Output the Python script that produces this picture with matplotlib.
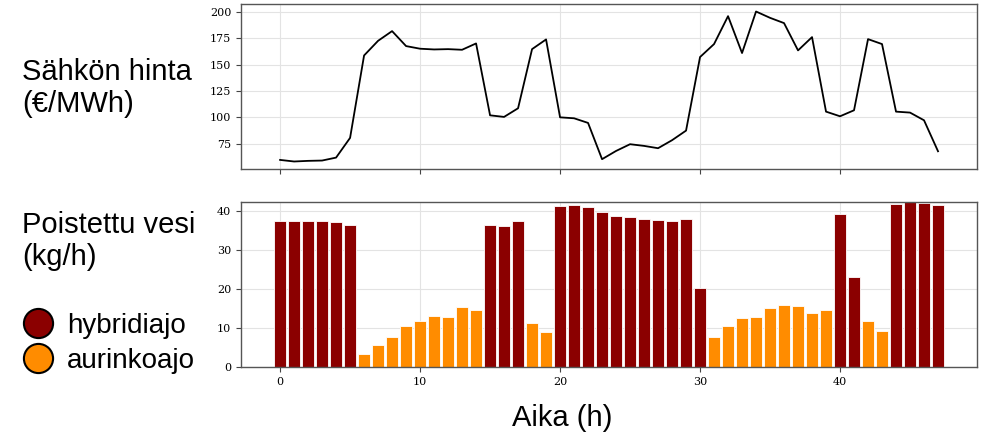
import numpy as np
import matplotlib.pyplot as plt
from matplotlib.lines import Line2D

# DATA
hours = np.arange(48)

price = [59.5, 58.0, 58.6, 58.9, 61.7, 80.4, 158.6, 172.5, 181.7, 167.5,
         165.0, 164.3, 164.6, 164.0, 170.0, 101.8, 100.3, 108.5, 164.6, 173.8,
         99.9, 99.0, 94.6, 60.2, 68.0, 74.4, 72.8, 70.6, 78.2, 87.3,
         157.1, 169.4, 195.9, 160.9, 200.3, 194.3, 189.3, 163.4, 176.0, 105.3,
         100.9, 106.6, 174.1, 169.4, 105.3, 104.4, 97.1, 67.7]

water = [37.5, 37.5, 37.5, 37.35, 37.2, 36.3, 3.25, 5.6, 7.6, 10.4,
         11.8, 13.1, 12.7, 15.4, 14.7, 36.3, 36.2, 37.5, 11.3, 9.0,
         41.3, 41.6, 41.1, 39.7, 38.8, 38.5, 38.0, 37.7, 37.5, 37.9,
         20.2, 7.7, 10.4, 12.6, 12.7, 15.0, 15.9, 15.6, 13.9, 14.5,
         39.3, 23.1, 11.8, 9.1, 41.8, 42.3, 42.0, 41.5]

# 1 = hybridiajo, 0 = aurinkoajo
mode = [1]*6 + [0]*9 + [1]*3 + [0]*2 + [1]*11 + [0]*9 + [1]*2 + [0]*2 + [1]*4

mode_labels = ["hybridiajo", "aurinkoajo"]
mode_colors = ["#8b0000", "#ff8c00"]

# PLOTTING
fig = plt.figure(figsize=(9.81, 4.36), dpi=100)
ax1 = fig.add_axes([0.2457, 0.6124, 0.7503, 0.3784])
ax2 = fig.add_axes([0.2457, 0.1583, 0.7503, 0.3784], sharex=ax1)

colors = [mode_colors[0] if m == 1 else mode_colors[1] for m in mode]
ax2.bar(hours, water, width=0.8, color=colors, edgecolor="white", linewidth=0.6)
ax2.set_ylim(0, max(water))

ax1.plot(hours, price, color="black", lw=1.3)

for ax in (ax1, ax2):
    ax.grid(True, color="#e3e3e3", lw=0.8)
    ax.set_axisbelow(True)
    for s in ax.spines.values():
        s.set_color("#555555")
        s.set_linewidth(1.0)
    ax.tick_params(labelsize=8, length=3.5, width=0.8, color="#444444")

ax1.set_yticks([75, 100, 125, 150, 175, 200])
ax1.tick_params(labelbottom=False)
ax2.set_yticks([0, 10, 20, 30, 40])
ax2.set_xticks([0, 10, 20, 30, 40])
for lab in ax1.get_yticklabels() + ax2.get_xticklabels() + ax2.get_yticklabels():
    lab.set_family("DejaVu Serif")

big = dict(family="Liberation Sans", fontsize=21)
fig.text(22/981, 1 - 112/436, "Sähkön hinta\n(€/MWh)", va="baseline", ha="left",
         linespacing=1.2, **big)
fig.text(22/981, 1 - 265/436, "Poistettu vesi\n(kg/h)", va="baseline", ha="left",
         linespacing=1.2, **big)
fig.text(562/981, 1 - 426/436, "Aika (h)", va="baseline", ha="center", **big)

handles = [Line2D([], [], ls="none", marker="o", markersize=21,
                  markerfacecolor=c, markeredgecolor="black", markeredgewidth=1.5)
           for c in mode_colors]
fig.legend(handles, mode_labels, loc="upper left", bbox_to_anchor=(0.0101, 0.315),
           frameon=False, prop=dict(family="Liberation Sans", size=20),
           handlelength=1.05, handletextpad=0.5, labelspacing=0.33, borderpad=0)

fig.savefig("out.png", dpi=100)
